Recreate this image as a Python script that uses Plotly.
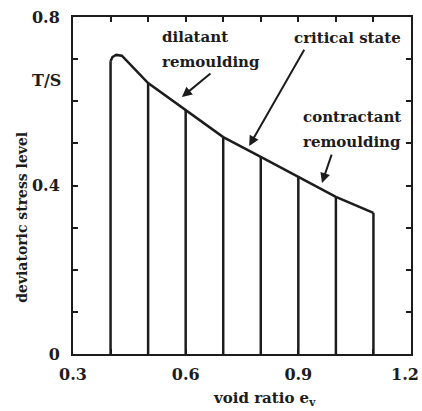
import plotly.graph_objects as go

# Data
line_e = [0.4, 0.5, 0.6, 0.7, 0.8, 0.9, 1.0, 1.1]
line_top = [0.695, 0.643, 0.579, 0.515, 0.468, 0.42, 0.373, 0.335]

cs_e = [0.4, 0.405, 0.415, 0.43, 0.5, 0.6, 0.7, 0.8, 0.9, 1.0, 1.1]
cs_t = [0.695, 0.705, 0.71, 0.708, 0.643, 0.579, 0.515, 0.468, 0.42, 0.373, 0.335]

x_ticks = [0.3, 0.4, 0.5, 0.6, 0.7, 0.8, 0.9, 1.0, 1.1, 1.2]
x_labels = ["0.3", "", "", "0.6", "", "", "0.9", "", "", "1.2"]
y_ticks = [0, 0.1, 0.2, 0.3, 0.4, 0.5, 0.6, 0.7, 0.8]
y_labels = ["0", "", "", "", "0.4", "", "", "", "0.8"]

INK = "#1c1c1c"
FONT = "DejaVu Serif"

vx, vy = [], []
for e, t in zip(line_e, line_top):
    vx += [e, e, None]
    vy += [0, t, None]

fig = go.Figure()
fig.add_trace(go.Scatter(x=vx, y=vy, mode="lines",
                         line=dict(color=INK, width=2.5), showlegend=False))
fig.add_trace(go.Scatter(x=cs_e, y=cs_t, mode="lines",
                         line=dict(color=INK, width=2.5), showlegend=False))

def bold(s):
    return "<b>" + s + "</b>" if s else ""

axis_common = dict(showline=True, mirror="ticks", linewidth=2, linecolor=INK,
                   ticks="inside", ticklen=5, tickwidth=1.5, tickcolor=INK,
                   showgrid=False, zeroline=False, automargin=False,
                   tickfont=dict(family=FONT, size=16, color=INK))

# the last x label sits at the page edge; draw it right-aligned so it stays whole
x_text = [bold(s) for s in x_labels[:-1]] + [""]

fig.update_layout(
    width=422, height=411,
    margin=dict(l=73, r=11, t=17, b=57),
    paper_bgcolor="white", plot_bgcolor="white",
    xaxis=dict(range=[0.3, 1.2], tickvals=x_ticks, ticktext=x_text,
               ticklabelstandoff=5, **axis_common),
    yaxis=dict(range=[0, 0.8], tickvals=y_ticks,
               ticktext=[bold(s) for s in y_labels], ticklabelstandoff=8,
               **axis_common),
    font=dict(family=FONT, color=INK),
)
fig.add_annotation(xref="paper", yref="paper", x=1.0296, y=-0.062,
                   xanchor="right", yanchor="middle", showarrow=False,
                   text=bold(x_labels[-1]),
                   font=dict(family=FONT, size=16, color=INK))

txt = dict(family=FONT, size=15, color=INK)
ann = [
    dict(x=0.532, y=0.752, text="<b>dilatant</b>", xanchor="left"),
    dict(x=0.532, y=0.693, text="<b>remoulding</b>", xanchor="left"),
    dict(x=1.03, y=0.750, text="<b>critical state</b>", xanchor="center"),
    dict(x=0.908, y=0.563, text="<b>contractant</b>", xanchor="left"),
    dict(x=0.908, y=0.503, text="<b>remoulding</b>", xanchor="left"),
]
for a in ann:
    fig.add_annotation(xref="x", yref="y", showarrow=False, yanchor="middle",
                       font=txt, **a)

arrows = [
    ((0.670, 0.669), (0.590, 0.610)),
    ((0.918, 0.726), (0.769, 0.494)),
    ((0.990, 0.477), (0.963, 0.406)),
]
for (tx, ty), (hx, hy) in arrows:
    fig.add_annotation(x=hx, y=hy, ax=tx, ay=ty, xref="x", yref="y",
                       axref="x", ayref="y", text="", showarrow=True,
                       arrowhead=2, arrowsize=1, arrowwidth=2,
                       arrowcolor=INK)

fig.add_annotation(xref="paper", yref="paper", x=-0.077, y=0.813,
                   xanchor="center", yanchor="middle",
                   text="<b>T/S</b>", showarrow=False,
                   font=dict(family=FONT, size=16, color=INK))
fig.add_annotation(xref="paper", yref="paper", x=0.568, y=-0.132,
                   xanchor="center", yanchor="middle",
                   text="<b>void ratio e<sub>v</sub></b>", showarrow=False,
                   font=dict(family=FONT, size=15, color=INK))
fig.add_annotation(xref="paper", yref="paper", x=-0.151, y=0.407,
                   xanchor="center", yanchor="middle",
                   text="<b>deviatoric stress level</b>", showarrow=False,
                   textangle=-90,
                   font=dict(family=FONT, size=14, color=INK))

fig.write_html("out.html")
